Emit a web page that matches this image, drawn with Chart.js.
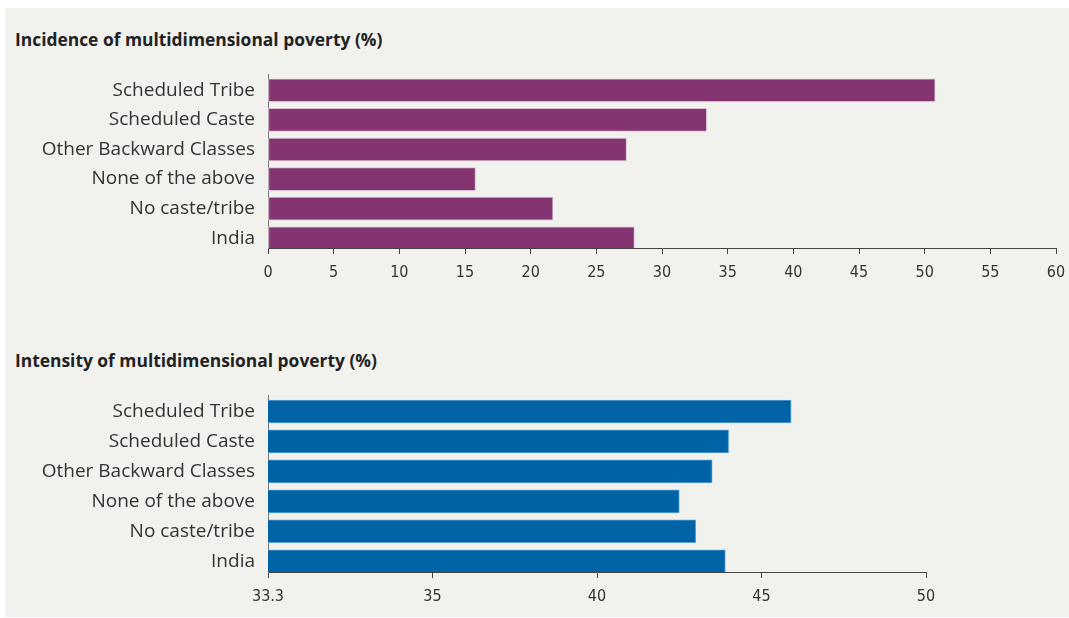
<!DOCTYPE html>
<html>
<head>
<meta charset="utf-8">
<script src="https://cdn.jsdelivr.net/npm/chart.js@4/dist/chart.umd.min.js"></script>
<style>
  html, body { margin: 0; padding: 0; background: #ffffff; }
  body { width: 1069px; height: 618px; position: relative; overflow: hidden; }
  #panel { position: absolute; left: 5px; top: 8px; width: 1064px; height: 609px; background: #f1f1ed; }
  .title { position: absolute; left: 15px; font-family: "Open Sans", Lato, sans-serif; font-weight: bold;
           font-size: 17.4px; color: #222; line-height: 22px; }
  .box { position: absolute; left: 0; width: 1069px; }
</style>
</head>
<body>
<div id="panel"></div>
<div class="title" style="top:28px">Incidence of multidimensional poverty (%)</div>
<div class="title" style="top:349px">Intensity of multidimensional poverty (%)</div>
<div class="box" style="top:0; height:300px"><canvas id="incidenceGraph"></canvas></div>
<div class="box" style="top:300px; height:318px"><canvas id="intensityGraph"></canvas></div>
<script>
var groups = ['Scheduled Tribe', 'Scheduled Caste', 'Other Backward Classes', 'None of the above', 'No caste/tribe', 'India'];
var incidence = [50.8, 33.4, 27.3, 15.8, 21.7, 27.9];
var intensity = [45.9, 44.0, 43.5, 42.5, 43.0, 43.9];
var incidenceTicks = ['0', '5', '10', '15', '20', '25', '30', '35', '40', '45', '50', '55', '60'];
var intensityTicks = ['33.3', '35', '40', '45', '50'];

var labelFont = { family: '"Open Sans", Lato, sans-serif', size: 19 };
var tickFont = { family: '"DejaVu Sans Condensed", "Liberation Sans Narrow", sans-serif', size: 16 };

function makeChart(id, values, color, edge, xMin, xMax, xTicks, pad, yMin, yMax, xHeight) {
	var points = values.map(function(v, i) { return { x: v, y: i }; });
	return new Chart(document.getElementById(id), {
		type: 'bar',
		data: {
			datasets: [{
				data: points,
				backgroundColor: color,
				borderColor: edge,
				borderWidth: 1,
				borderSkipped: false,
				barThickness: 23
			}]
		},
		options: {
			indexAxis: 'y',
			responsive: true,
			maintainAspectRatio: false,
			animation: false,
			layout: { padding: pad },
			plugins: { legend: { display: false }, tooltip: { enabled: false } },
			scales: {
				x: {
					type: 'linear',
					min: xMin,
					max: xMax,
					afterBuildTicks: function(scale) {
						scale.ticks = xTicks.map(function(t, i) { return { value: xMin + i * 5 }; });
					},
					afterFit: function(scale) {
						scale.height = xHeight;
						scale.paddingRight = 0;
					},
					grid: { drawOnChartArea: false, drawTicks: true, tickLength: 6, color: '#444' },
					border: { display: true, color: '#444', width: 1 },
					ticks: {
						font: tickFont, color: '#333', padding: 9, autoSkip: false, maxRotation: 0,
						callback: function(v, i) { return xTicks[i]; }
					}
				},
				y: {
					type: 'linear',
					reverse: true,
					offset: false,
					min: yMin,
					max: yMax,
					afterBuildTicks: function(scale) {
						scale.ticks = groups.map(function(g, i) { return { value: i }; });
					},
					afterFit: function(scale) { scale.width = 268; },
					grid: { display: false, drawTicks: false },
					border: { display: true, color: '#777', width: 1 },
					ticks: {
						font: labelFont, color: '#333', padding: 13, autoSkip: false,
						callback: function(v) { return groups[v]; }
					}
				}
			}
		}
	});
}

//발생률 그래프
makeChart('incidenceGraph', incidence, '#833471', '#d8bfd2', 0, 60, incidenceTicks,
	{ top: 74, right: 13, left: 0, bottom: 0 }, -0.55, 5.33, 52);
//강도 그래프
makeChart('intensityGraph', intensity, '#0063a6', '#5b9fd2', 30, 50, intensityTicks,
	{ top: 95, right: 143, left: 0, bottom: 0 }, -0.55, 5.36, 46);
</script>
</body>
</html>
